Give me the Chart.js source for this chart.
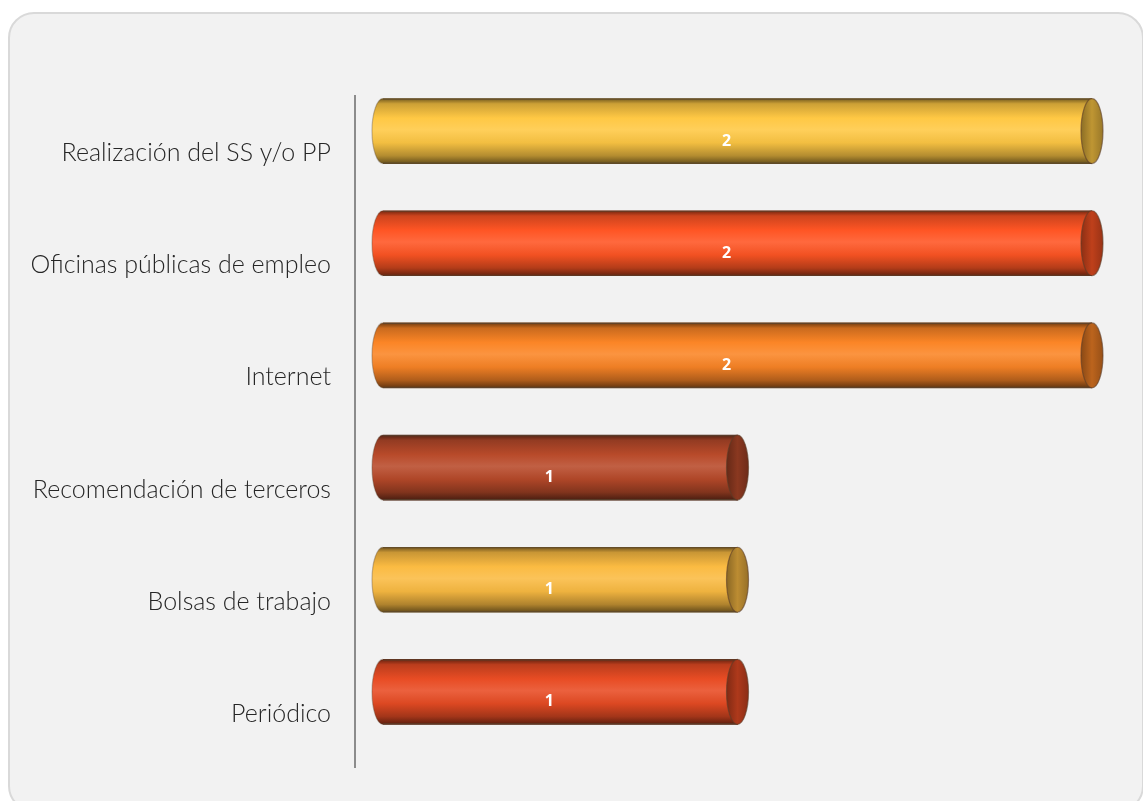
<!DOCTYPE html>
<html>
<head>
<meta charset="utf-8">
<script src="https://cdn.jsdelivr.net/npm/chart.js@4.4.1/dist/chart.umd.min.js"></script>
<style>
  html, body { margin: 0; padding: 0; background: #ffffff; }
  #card {
    position: absolute; left: 8px; top: 12px; width: 1136px; height: 800px;
    box-sizing: border-box; border: 2px solid #d9d9d9; border-radius: 26px;
    background: #f2f2f2;
  }
  #wrap { position: absolute; left: 0; top: 0; width: 1143px; height: 801px; }
</style>
</head>
<body>
<div id="card"></div>
<div id="wrap"><canvas id="chart1"></canvas></div>
<script>
const categories = [
    'Realización del SS y/o PP',
    'Oficinas públicas de empleo',
    'Internet',
    'Recomendación de terceros',
    'Bolsas de trabajo',
    'Periódico'
];
const values = [2, 2, 2, 1, 1, 1];
const barColors = ['#ffc844', '#ff5524', '#fb8526', '#b84a2a', '#fbbb42', '#e84c24'];

// mix a hex colour with black (f < 0) or white (f > 0)
const shade = (hex, f) => {
    const n = parseInt(hex.slice(1), 16);
    let r = n >> 16, g = (n >> 8) & 255, b = n & 255;
    const t = f < 0 ? 0 : 255, p = Math.abs(f);
    r = Math.round(r + (t - r) * p);
    g = Math.round(g + (t - g) * p);
    b = Math.round(b + (t - b) * p);
    return `rgb(${r},${g},${b})`;
};

const BAR_H = 65;

const bodyGradient = (c, top, h, base) => {
    const g = c.createLinearGradient(0, top, 0, top + h);
    g.addColorStop(0, shade(base, -0.55));
    g.addColorStop(0.08, shade(base, -0.2));
    g.addColorStop(0.3, base);
    g.addColorStop(0.48, shade(base, 0.12));
    g.addColorStop(0.68, shade(base, -0.05));
    g.addColorStop(0.88, shade(base, -0.3));
    g.addColorStop(1, shade(base, -0.6));
    return g;
};

const cylinder = {
    id: 'cylinder',
    beforeDraw(chart) {
        const c = chart.ctx;
        const area = chart.chartArea;
        c.save();
        c.strokeStyle = '#8c8c8c';
        c.lineWidth = 2;
        c.beginPath();
        c.moveTo(area.left - 28, area.top + 20);
        c.lineTo(area.left - 28, area.bottom + 20);
        c.stroke();
        c.restore();
    },
    afterDatasetsDraw(chart) {
        const c = chart.ctx;
        const meta = chart.getDatasetMeta(0);
        meta.data.forEach((bar, i) => {
            const base = barColors[i];
            const h = bar.height;
            const top = bar.y - h / 2;
            const left = bar.base;
            const right = bar.x;
            const rx = 11;
            c.save();
            // left rounded cap
            c.fillStyle = bodyGradient(c, top, h, base);
            c.beginPath();
            c.ellipse(left, bar.y, rx, h / 2, 0, Math.PI / 2, Math.PI * 1.5);
            c.closePath();
            c.fill();
            // outline top and bottom
            c.strokeStyle = 'rgba(90,70,50,0.75)';
            c.lineWidth = 1.2;
            c.beginPath();
            c.moveTo(left, top + 0.5);
            c.lineTo(right, top + 0.5);
            c.moveTo(left, top + h - 0.5);
            c.lineTo(right, top + h - 0.5);
            c.stroke();
            c.strokeStyle = 'rgba(90,70,50,0.35)';
            c.beginPath();
            c.ellipse(left, bar.y, rx, h / 2, 0, Math.PI / 2, Math.PI * 1.5);
            c.stroke();
            // right end face
            const eg = c.createLinearGradient(right - rx, 0, right + rx, 0);
            eg.addColorStop(0, shade(base, -0.45));
            eg.addColorStop(0.5, shade(base, -0.25));
            eg.addColorStop(1, shade(base, -0.4));
            c.fillStyle = eg;
            c.beginPath();
            c.ellipse(right, bar.y, rx, h / 2, 0, 0, Math.PI * 2);
            c.fill();
            c.strokeStyle = 'rgba(90,60,40,0.6)';
            c.stroke();
            // value label
            c.fillStyle = '#ffffff';
            c.font = 'bold 16px "Open Sans", sans-serif';
            c.textAlign = 'center';
            c.textBaseline = 'middle';
            c.fillText(String(values[i]), (left + right) / 2 - 11, bar.y + 10);
            c.restore();
        });
    }
};

const config = {
    type: 'bar',
    data: {
        labels: categories,
        datasets: [{
            data: values,
            barThickness: BAR_H,
            borderWidth: 0,
            backgroundColor: ctx1 => {
                const chart = ctx1.chart;
                if (!chart.chartArea) return barColors[ctx1.dataIndex];
                const y = chart.scales.y.getPixelForValue(ctx1.dataIndex);
                return bodyGradient(chart.ctx, y - BAR_H / 2, BAR_H, barColors[ctx1.dataIndex]);
            }
        }]
    },
    plugins: [cylinder],
    options: {
        indexAxis: 'y',
        responsive: false,
        animation: false,
        layout: {
            padding: { top: 75, bottom: 53, right: 51, left: 0 }
        },
        plugins: {
            legend: { display: false },
            tooltip: { enabled: false }
        },
        scales: {
            x: {
                display: false,
                min: 0,
                max: 2
            },
            y: {
                afterFit: scale => {
                    scale.width = 383;
                    scale.paddingTop = 0;
                    scale.paddingBottom = 0;
                },
                grid: { display: false, drawTicks: false },
                border: { display: false },
                ticks: {
                    padding: 52,
                    labelOffset: 22,
                    color: '#262626',
                    font: { family: 'Lato', size: 25, weight: 300 }
                }
            }
        }
    }
};

const canvas = document.getElementById('chart1');
canvas.width = 1143;
canvas.height = 801;
const chart1 = new Chart(canvas.getContext('2d'), config);
</script>
</body>
</html>
